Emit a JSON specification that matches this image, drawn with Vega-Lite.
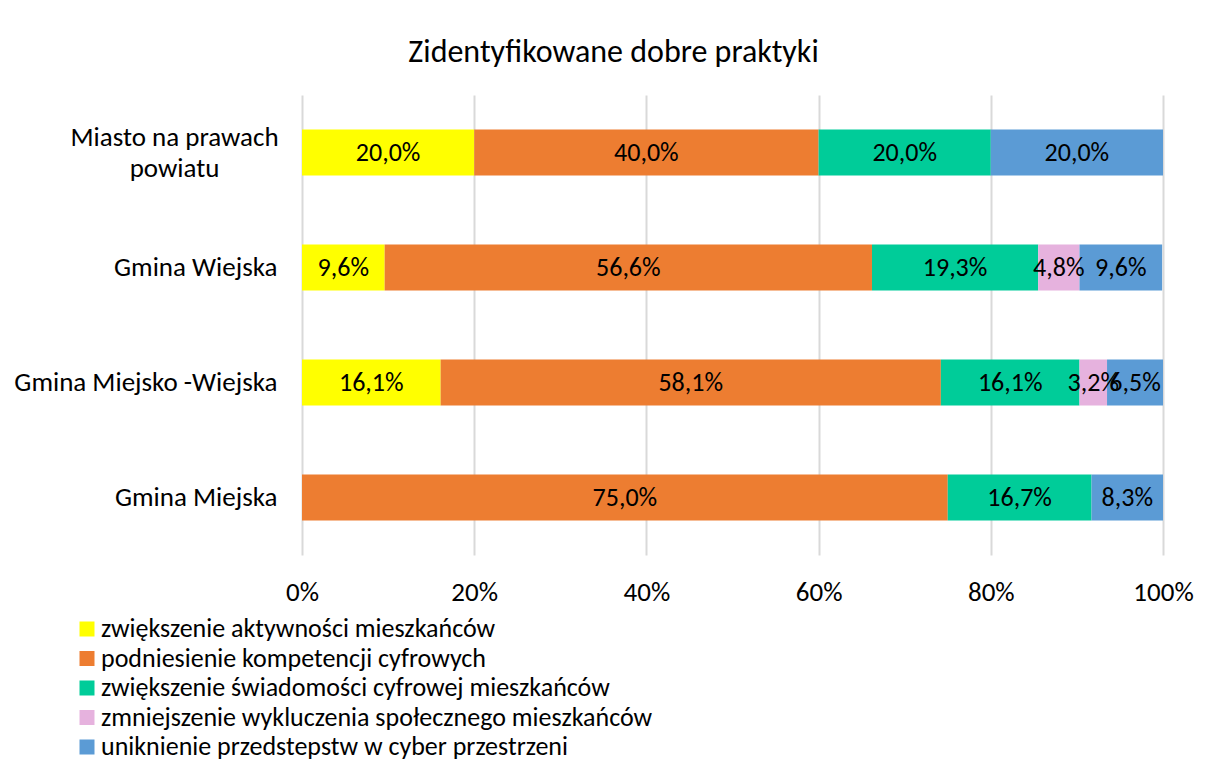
{
  "$schema": "https://vega.github.io/schema/vega-lite/v6.json",
  "autosize": "none",
  "width": 861,
  "height": 460,
  "padding": {"left": 302, "top": 95, "right": 47, "bottom": 207},
  "background": "white",
  "config": {
    "font": "Carlito, Lato, sans-serif",
    "locale": {"number": {"decimal": ",", "thousands": " ", "grouping": [3], "currency": ["", " zł"]}},
    "view": {"stroke": null}
  },
  "title": {
    "text": "Zidentyfikowane dobre praktyki",
    "anchor": "middle",
    "dx": -119,
    "offset": 1,
    "baseline": "alphabetic",
    "fontSize": 32,
    "fontWeight": "normal",
    "color": "#000000"
  },
  "data": {
    "values": [
      {"region": "Miasto na prawach powiatu", "cat": "zwiększenie aktywności mieszkańców", "k": 1, "value": 0.2},
      {"region": "Miasto na prawach powiatu", "cat": "podniesienie kompetencji cyfrowych", "k": 2, "value": 0.4},
      {"region": "Miasto na prawach powiatu", "cat": "zwiększenie świadomości cyfrowej mieszkańców", "k": 3, "value": 0.2},
      {"region": "Miasto na prawach powiatu", "cat": "uniknienie przedstepstw w cyber przestrzeni", "k": 5, "value": 0.2},
      {"region": "Gmina Wiejska", "cat": "zwiększenie aktywności mieszkańców", "k": 1, "value": 0.096},
      {"region": "Gmina Wiejska", "cat": "podniesienie kompetencji cyfrowych", "k": 2, "value": 0.566},
      {"region": "Gmina Wiejska", "cat": "zwiększenie świadomości cyfrowej mieszkańców", "k": 3, "value": 0.193},
      {"region": "Gmina Wiejska", "cat": "zmniejszenie  wykluczenia społecznego mieszkańców", "k": 4, "value": 0.048},
      {"region": "Gmina Wiejska", "cat": "uniknienie przedstepstw w cyber przestrzeni", "k": 5, "value": 0.096},
      {"region": "Gmina Miejsko -Wiejska", "cat": "zwiększenie aktywności mieszkańców", "k": 1, "value": 0.161},
      {"region": "Gmina Miejsko -Wiejska", "cat": "podniesienie kompetencji cyfrowych", "k": 2, "value": 0.581},
      {"region": "Gmina Miejsko -Wiejska", "cat": "zwiększenie świadomości cyfrowej mieszkańców", "k": 3, "value": 0.161},
      {"region": "Gmina Miejsko -Wiejska", "cat": "zmniejszenie  wykluczenia społecznego mieszkańców", "k": 4, "value": 0.032},
      {"region": "Gmina Miejsko -Wiejska", "cat": "uniknienie przedstepstw w cyber przestrzeni", "k": 5, "value": 0.065},
      {"region": "Gmina Miejska", "cat": "podniesienie kompetencji cyfrowych", "k": 2, "value": 0.75},
      {"region": "Gmina Miejska", "cat": "zwiększenie świadomości cyfrowej mieszkańców", "k": 3, "value": 0.167},
      {"region": "Gmina Miejska", "cat": "uniknienie przedstepstw w cyber przestrzeni", "k": 5, "value": 0.083}
    ]
  },
  "encoding": {
    "y": {
      "field": "region",
      "type": "nominal",
      "sort": ["Miasto na prawach powiatu", "Gmina Wiejska", "Gmina Miejsko -Wiejska", "Gmina Miejska"],
      "scale": {"paddingInner": 0.6, "paddingOuter": 0.3},
      "axis": {
        "title": null,
        "domain": false,
        "ticks": false,
        "grid": false,
        "labelFontSize": 27,
        "labelColor": "#000000",
        "labelPadding": {"condition": {"test": "datum.value == 'Miasto na prawach powiatu'", "value": 128}, "value": 25},
        "labelAlign": {"condition": {"test": "datum.value == 'Miasto na prawach powiatu'", "value": "center"}, "value": "right"},
        "labelOffset": {"condition": {"test": "datum.value == 'Miasto na prawach powiatu'", "value": -15}, "value": 0},
        "labelLineHeight": 31,
        "labelLimit": 400,
        "labelExpr": "datum.label == 'Miasto na prawach powiatu' ? ['Miasto na prawach', 'powiatu'] : datum.label"
      }
    },
    "x": {
      "field": "value",
      "type": "quantitative",
      "stack": "zero",
      "scale": {"domain": [0, 1], "nice": false},
      "axis": {
        "title": null,
        "format": ".0%",
        "values": [0, 0.2, 0.4, 0.6, 0.8, 1],
        "domain": false,
        "ticks": false,
        "grid": true,
        "gridColor": "#d9d9d9",
        "gridWidth": 2,
        "labelFontSize": 27,
        "labelColor": "#000000",
        "labelPadding": 24,
        "labelFlush": false
      }
    },
    "order": {"field": "k", "type": "quantitative"}
  },
  "layer": [
    {
      "mark": {"type": "bar"},
      "encoding": {
        "color": {
          "field": "cat",
          "type": "nominal",
          "scale": {
            "domain": ["zwiększenie aktywności mieszkańców", "podniesienie kompetencji cyfrowych", "zwiększenie świadomości cyfrowej mieszkańców", "zmniejszenie  wykluczenia społecznego mieszkańców", "uniknienie przedstepstw w cyber przestrzeni"],
            "range": ["#FFFF00", "#ED7D31", "#00CC99", "#E6B2DE", "#5B9BD5"]
          },
          "legend": {
            "title": null,
            "orient": "none",
            "legendX": -228,
            "legendY": 521,
            "direction": "vertical",
            "symbolType": "square",
            "symbolSize": 225,
            "symbolStrokeWidth": 0,
            "symbolOpacity": 1,
            "labelFontSize": 26,
            "labelColor": "#000000",
            "labelOffset": 1,
            "labelLimit": 800,
            "rowPadding": 3.5
          }
        }
      }
    },
    {
      "mark": {"type": "text", "fontSize": 26, "color": "#000000", "baseline": "middle", "align": "center"},
      "encoding": {
        "x": {"field": "value", "type": "quantitative", "stack": "zero", "bandPosition": 0.5},
        "text": {"field": "value", "type": "quantitative", "format": ".1%"}
      }
    }
  ]
}
